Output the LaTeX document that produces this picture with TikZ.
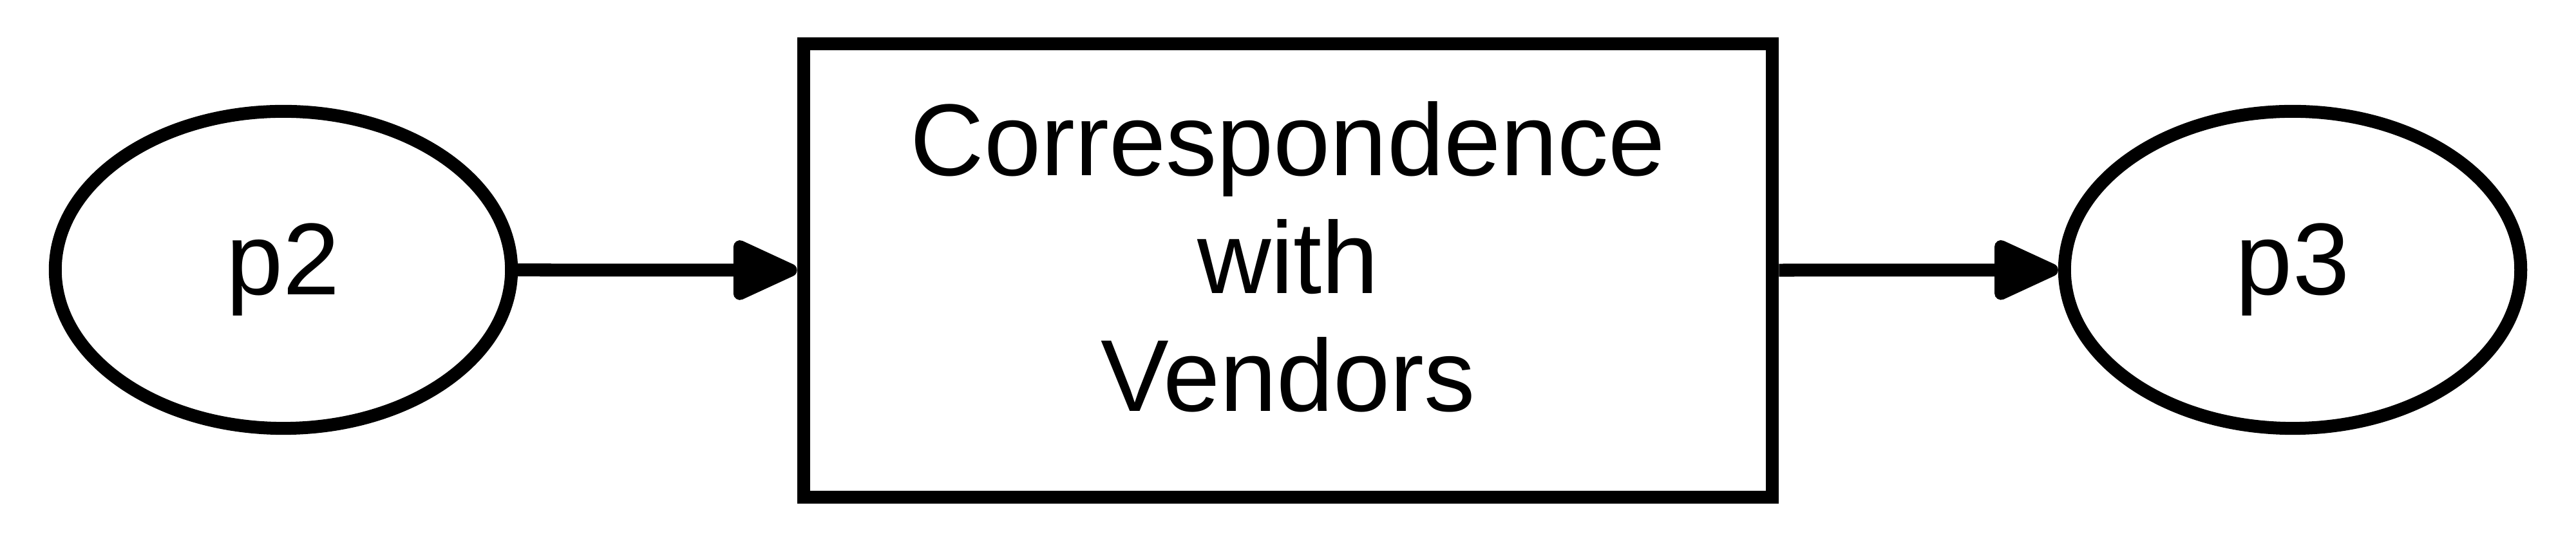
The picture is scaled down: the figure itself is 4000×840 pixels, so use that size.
\documentclass[tikz,border=0pt]{standalone}
\usepackage{fontspec}
\setmainfont{Liberation Sans}
\usetikzlibrary{shapes.geometric,arrows.meta}
\begin{document}
\begin{tikzpicture}[x=0.01cm,y=0.01cm,
  every node/.style={line width=0.2cm,draw=black,inner sep=0pt,font=\fontsize{45.1}{52}\selectfont},
  place/.style={ellipse,minimum width=7.08cm,minimum height=4.92cm},
  proc/.style={rectangle,minimum width=15.04cm,minimum height=7.04cm,align=center},
  edge/.style={line width=0.2cm,-{Triangle[length=1.14cm,width=0.98cm,round]}}]
\useasboundingbox (0,0) rectangle (4000,840);
\node[place] (p2) at (440,421) {p2};
\node[proc] (t) at (2000,420) {Correspondence\\with\\Vendors\rule[-0.44cm]{0pt}{0pt}};
\node[place] (p3) at (3560,421) {p3};
\draw[edge] (p2) -- (t);
\draw[edge] (t) -- (p3);
\end{tikzpicture}
\end{document}
